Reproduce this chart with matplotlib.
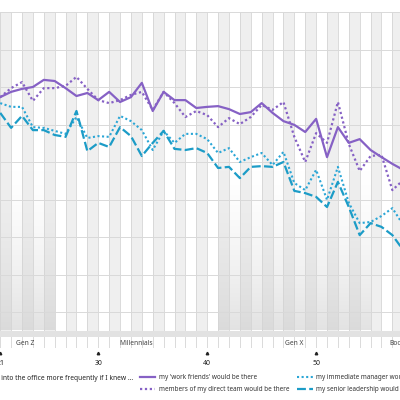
import matplotlib
matplotlib.use('Agg')
import matplotlib.pyplot as plt
import matplotlib.transforms as mtransforms
import numpy as np

plt.rcParams['font.family'] = ['Noto Sans', 'DejaVu Sans']

ages = list(range(21, 59))

# share of respondents (%)
work_friends = [57.3, 58.7, 59.5, 60.0, 61.9, 61.6, 59.7, 57.6, 58.4, 56.5,
                58.7, 56.0, 57.3, 61.1, 53.6, 58.7, 56.5, 56.5, 54.4, 54.7,
                54.9, 54.1, 52.8, 53.3, 55.7, 53.1, 50.9, 49.9, 48.0, 51.5,
                41.3, 49.3, 45.1, 46.1, 43.2, 41.3, 39.5, 37.9]
direct_team = [57.3, 59.7, 61.3, 56.3, 59.7, 59.7, 60.3, 62.7, 59.5, 56.5,
               55.7, 56.5, 57.9, 58.7, 53.9, 58.7, 55.7, 52.0, 53.6, 52.5,
               49.3, 51.7, 50.1, 52.0, 55.2, 53.9, 56.0, 46.7, 40.0, 47.7,
               45.1, 56.0, 44.8, 37.6, 41.6, 41.9, 32.5, 35.2]
manager = [55.7, 54.7, 54.7, 49.3, 49.1, 48.3, 47.5, 52.0, 46.4, 46.9,
           46.7, 52.3, 50.9, 48.5, 43.2, 48.3, 45.1, 47.5, 47.5, 46.1,
           42.4, 43.7, 40.0, 41.3, 42.4, 39.2, 42.7, 34.4, 32.5, 37.9,
           29.9, 38.7, 29.1, 23.7, 24.0, 25.6, 27.7, 23.2]
leadership = [53.1, 49.1, 52.3, 48.5, 48.5, 47.2, 46.7, 53.6, 42.9, 45.1,
              44.0, 49.3, 46.9, 41.6, 45.1, 48.3, 43.5, 43.2, 43.7, 42.4,
              38.4, 38.7, 35.7, 38.7, 38.9, 38.7, 40.0, 32.3, 31.7, 30.7,
              28.0, 34.7, 28.0, 20.5, 23.7, 22.7, 20.5, 16.5]

generations = ['Gen Z', 'Millennials', 'Gen X', 'Boomers']
gen_bounds = [(20.5, 26), (26, 41), (41, 55), (55, 61)]
tick_ages = [21, 30, 40, 50]

purple = '#8661c5'
cyan_dot = '#2aa6d6'
cyan_dash = '#1c9cc7'

fig = plt.figure(figsize=(4, 4), dpi=100)
ax = fig.add_axes([0, 0.13, 1, 0.84])
x0, x1 = 20.98, 57.7
y0, y1 = -9.6, 80

# alternating year columns
for a in range(20, 60):
    if a % 2 == 1:
        ax.axvspan(a, a + 1, ymin=(-5.3 - y0) / (y1 - y0), ymax=1,
                   color='#efefef', lw=0, zorder=0)
    ax.axvline(a, color='#d4d4d4', lw=0.6, zorder=1)

# generation shading, fading out upwards
grad = np.linspace(0, 1, 100)
rgba = np.zeros((100, 1, 4))
rgba[..., :3] = 0.78
rgba[:, 0, 3] = 0.5 * grad ** 1.6
for i, (g0, g1) in enumerate(gen_bounds):
    if i % 2 == 0:
        ax.imshow(rgba, extent=(g0, g1, -4.8, 40), aspect='auto',
                  origin='upper', zorder=0.5, interpolation='bilinear')

ax.set_xlim(x0, x1)
ax.set_ylim(y0, y1)

for v in range(0, 81, 10):
    ax.axhline(v, color='#d9d9d9', lw=0.7, zorder=1)

ax.axhspan(-6.7, -5.0, color='#e2e2e2', lw=0, zorder=1.5)
for g, (g0, g1) in zip(generations, gen_bounds):
    ax.text((g0 + g1) / 2, -8.3, g, ha='center', va='center', fontsize=4.8,
            color='#444444', clip_on=True, zorder=3)

ax.plot(ages, work_friends, color=purple, lw=1.6, zorder=4,
        label="my 'work friends' would be there")
ax.plot(ages, direct_team, color=purple, lw=1.6, ls=(0, (1, 1.2)), zorder=4,
        label='members of my direct team would be there')
ax.plot(ages, manager, color=cyan_dot, lw=1.5, ls=(0, (1, 1.2)), zorder=4,
        label='my immediate manager would be there')
ax.plot(ages, leadership, color=cyan_dash, lw=1.6, ls=(0, (4, 1.5)), zorder=4,
        label='my senior leadership would be there')

ax.set_xticks([])
ax.set_yticks([])
for s in ax.spines.values():
    s.set_visible(False)

trans = mtransforms.blended_transform_factory(ax.transData, ax.transAxes)
ax.plot(tick_ages, [-0.014] * len(tick_ages), ls='none', marker='^', ms=1.8,
        color='#222222', transform=trans, clip_on=False)
for t in tick_ages:
    ax.text(t, -0.047, str(t), transform=trans, ha='center', va='center',
            fontsize=5, fontweight='bold', color='#222222')

fig.text(133 / 400, 1 - 378 / 400,
         'I would come into the office more frequently if I knew ...',
         ha='right', va='center', fontsize=4.8, fontweight='bold', color='#222222')

fig.legend(loc='upper left', bbox_to_anchor=(140 / 400, 1 - 374 / 400),
           ncol=2, frameon=False, fontsize=4.6, handlelength=2.4,
           columnspacing=1.2, labelspacing=0.75, handletextpad=0.6,
           borderaxespad=0, borderpad=0, labelcolor='#333333')

fig.savefig('out.png', dpi=100, facecolor='white')
